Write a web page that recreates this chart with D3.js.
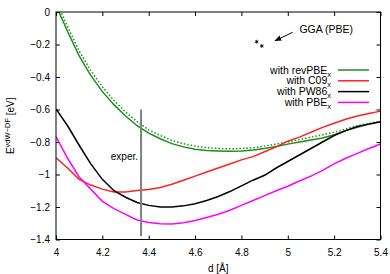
<!DOCTYPE html>
<html>
<head>
<meta charset="utf-8">
<script src="https://cdn.jsdelivr.net/npm/d3@7"></script>
<style>
  body { margin: 0; background: #fff; }
  svg { display: block; font-family: "Liberation Sans", Arial, sans-serif; }
</style>
</head>
<body>
<div id="chart"></div>
<script>
// interlayer distance grid (Angstrom)
const dist = [4.00, 4.05, 4.10, 4.15, 4.20, 4.25, 4.30, 4.35, 4.40, 4.45, 4.50, 4.55, 4.60, 4.65, 4.70,
              4.75, 4.80, 4.85, 4.90, 4.95, 5.00, 5.05, 5.10, 5.15, 5.20, 5.25, 5.30, 5.35, 5.40];

// binding energies (eV)
const revPBE = [0.04, -0.12, -0.27, -0.39, -0.49, -0.57, -0.64, -0.70, -0.745, -0.78, -0.81, -0.83, -0.845, -0.852, -0.855,
                -0.857, -0.855, -0.849, -0.84, -0.828, -0.813, -0.80, -0.787, -0.775, -0.755, -0.73, -0.71, -0.69, -0.675];
const revPBEdot = [0.07, -0.09, -0.24, -0.36, -0.46, -0.545, -0.615, -0.675, -0.725, -0.76, -0.79, -0.81, -0.825, -0.835, -0.84,
                   -0.842, -0.84, -0.835, -0.825, -0.813, -0.80, -0.785, -0.77, -0.755, -0.74, -0.72, -0.70, -0.685, -0.672];
const c09 = [-0.897, -0.96, -1.03, -1.065, -1.09, -1.108, -1.108, -1.098, -1.093, -1.08, -1.06, -1.035, -1.01, -0.985, -0.96,
             -0.935, -0.91, -0.89, -0.86, -0.83, -0.795, -0.77, -0.74, -0.71, -0.685, -0.66, -0.64, -0.625, -0.61];
const pw86 = [-0.597, -0.70, -0.82, -0.935, -1.03, -1.10, -1.14, -1.172, -1.19, -1.20, -1.20, -1.193, -1.18, -1.16, -1.135,
              -1.105, -1.07, -1.035, -1.005, -0.96, -0.92, -0.88, -0.84, -0.80, -0.76, -0.73, -0.705, -0.69, -0.675];
const pbe = [-0.767, -0.90, -1.015, -1.09, -1.165, -1.21, -1.245, -1.28, -1.295, -1.303, -1.305, -1.297, -1.283, -1.265, -1.245,
             -1.22, -1.19, -1.16, -1.13, -1.10, -1.072, -1.04, -1.01, -0.975, -0.935, -0.90, -0.87, -0.84, -0.812];

// GGA (PBE) points
const ggaD = [4.866, 4.888];
const ggaE = [-0.183, -0.209];

// experimental distance marker
const expD = 4.367;
const expRange = [-0.6, -1.38];

// ticks
const xTicks = [4, 4.2, 4.4, 4.6, 4.8, 5, 5.2, 5.4];
const yTicks = [0, -0.2, -0.4, -0.6, -0.8, -1, -1.2, -1.4];

const legendNames = ["with revPBE", "with C09", "with PW86", "with PBE"];
const legendColors = ["#1e8c1e", "#ff2020", "#000000", "#ff00ff"];

const width = 390;
const height = 274;
const margin = {top: 12, right: 9.5, bottom: 34.5, left: 56};

const svg = d3.select("#chart")
  .append("svg")
  .attr("width", width)
  .attr("height", height);

const xScale = d3.scaleLinear()
  .domain([4, 5.4])
  .range([margin.left, width - margin.right]);

const yScale = d3.scaleLinear()
  .domain([-1.4, 0])
  .range([height - margin.bottom, margin.top]);

const fmt = v => (v < 0 ? "\u2212" : "") + d3.format("")(Math.abs(v));

// clip so curves stay inside the frame
svg.append("clipPath").attr("id", "plotclip")
  .append("rect")
  .attr("x", margin.left)
  .attr("y", margin.top)
  .attr("width", xScale(5.4) - xScale(4))
  .attr("height", yScale(-1.4) - yScale(0));

// bottom axis, ticks pointing inward
const xAxis = svg.append("g")
  .attr("transform", `translate(0,${yScale(-1.4)})`)
  .call(d3.axisBottom(xScale).tickValues(xTicks).tickFormat(fmt).tickSizeInner(-4).tickSizeOuter(0).tickPadding(9));
// top mirror ticks
const xAxisTop = svg.append("g")
  .attr("transform", `translate(0,${yScale(0)})`)
  .call(d3.axisTop(xScale).tickValues(xTicks).tickFormat("").tickSizeInner(-4).tickSizeOuter(0));
// left axis
const yAxis = svg.append("g")
  .attr("transform", `translate(${xScale(4)},0)`)
  .call(d3.axisLeft(yScale).tickValues(yTicks).tickFormat(fmt).tickSizeInner(-4).tickSizeOuter(0).tickPadding(6));
// right mirror ticks
const yAxisRight = svg.append("g")
  .attr("transform", `translate(${xScale(5.4)},0)`)
  .call(d3.axisRight(yScale).tickValues(yTicks).tickFormat("").tickSizeInner(-4).tickSizeOuter(0));

[xAxis, xAxisTop, yAxis, yAxisRight].forEach(g => {
  g.select(".domain").remove();
  g.selectAll("text").attr("font-size", 10).attr("font-family", "Liberation Sans, Arial, sans-serif").attr("fill", "#000");
  g.selectAll("line").attr("stroke", "#000");
});

// the series
const series = [
  {vals: revPBE, color: legendColors[0], dash: null},
  {vals: revPBEdot, color: legendColors[0], dash: "1.5,2"},
  {vals: c09, color: legendColors[1], dash: null},
  {vals: pw86, color: legendColors[2], dash: null},
  {vals: pbe, color: legendColors[3], dash: null}
];

const line = d3.line()
  .x((d, i) => xScale(dist[i]))
  .y(d => yScale(d));

const plot = svg.append("g").attr("clip-path", "url(#plotclip)");

plot.selectAll("path.curve")
  .data(series)
  .enter().append("path")
  .attr("class", "curve")
  .attr("d", s => line(s.vals))
  .attr("fill", "none")
  .attr("stroke", s => s.color)
  .attr("stroke-width", 1.5)
  .attr("stroke-dasharray", s => s.dash);

// experimental marker
svg.append("line")
  .attr("x1", xScale(expD)).attr("x2", xScale(expD))
  .attr("y1", yScale(expRange[0])).attr("y2", yScale(expRange[1]))
  .attr("stroke", "#808080")
  .attr("stroke-width", 2);

svg.append("text")
  .attr("x", xScale(expD) - 3)
  .attr("y", yScale(-0.91))
  .attr("text-anchor", "end")
  .attr("font-size", 10)
  .text("exper.");

// GGA (PBE) asterisks
const star = d3.symbolAsterisk ? d3.symbol().type(d3.symbolAsterisk).size(10)() :
  "M0,-2L0,2M-2,0L2,0M-1.4,-1.4L1.4,1.4M-1.4,1.4L1.4,-1.4";
svg.selectAll("path.gga")
  .data(ggaD)
  .enter().append("path")
  .attr("class", "gga")
  .attr("transform", (d, i) => `translate(${xScale(d)},${yScale(ggaE[i])})`)
  .attr("d", star)
  .attr("fill", "none")
  .attr("stroke", "#000")
  .attr("stroke-width", 0.9);

// arrow pointing to the GGA points
svg.append("defs").append("marker")
  .attr("id", "arrowhead")
  .attr("viewBox", "0 0 10 10")
  .attr("refX", 9).attr("refY", 5)
  .attr("markerWidth", 7).attr("markerHeight", 7)
  .attr("markerUnits", "userSpaceOnUse")
  .attr("orient", "auto")
  .append("path")
  .attr("d", "M0,1L10,5L0,9z")
  .attr("fill", "#000");

svg.append("line")
  .attr("x1", xScale(5.021)).attr("y1", yScale(-0.125))
  .attr("x2", xScale(4.945)).attr("y2", yScale(-0.177))
  .attr("stroke", "#000")
  .attr("stroke-width", 1)
  .attr("marker-end", "url(#arrowhead)");

svg.append("text")
  .attr("x", xScale(5.05))
  .attr("y", yScale(-0.13))
  .attr("font-size", 10.5)
  .text("GGA (PBE)");

// legend
const legend = svg.append("g")
  .selectAll("g")
  .data(legendNames)
  .enter().append("g")
  .attr("transform", (d, i) => `translate(0,${70 + i * 10.8})`);

legend.append("line")
  .attr("x1", 338).attr("x2", 369)
  .attr("stroke", (d, i) => legendColors[i])
  .attr("stroke-width", 1.5);

const lt = legend.append("text")
  .attr("x", 331)
  .attr("y", 3.5)
  .attr("text-anchor", "end")
  .attr("font-size", 10.5);
lt.append("tspan").text(d => d);
lt.append("tspan").attr("dy", 3).attr("font-size", 7.5).text("x");

// frame
svg.append("rect")
  .attr("x", xScale(4))
  .attr("y", yScale(0))
  .attr("width", xScale(5.4) - xScale(4))
  .attr("height", yScale(-1.4) - yScale(0))
  .attr("fill", "none")
  .attr("stroke", "#000")
  .attr("stroke-width", 1);

// axis labels
svg.append("text")
  .attr("x", (xScale(4) + xScale(5.4)) / 2)
  .attr("y", 272)
  .attr("text-anchor", "middle")
  .attr("font-size", 10)
  .text("d [\u00c5]");

const yl = svg.append("text")
  .attr("transform", `translate(14,${yScale(-0.7)}) rotate(-90)`)
  .attr("text-anchor", "middle")
  .attr("font-size", 10);
yl.append("tspan").text("E");
yl.append("tspan").attr("dy", -4).attr("font-size", 7.5).text("vdW\u2212DF");
yl.append("tspan").attr("dy", 4).text(" [eV]");
</script>
</body>
</html>
